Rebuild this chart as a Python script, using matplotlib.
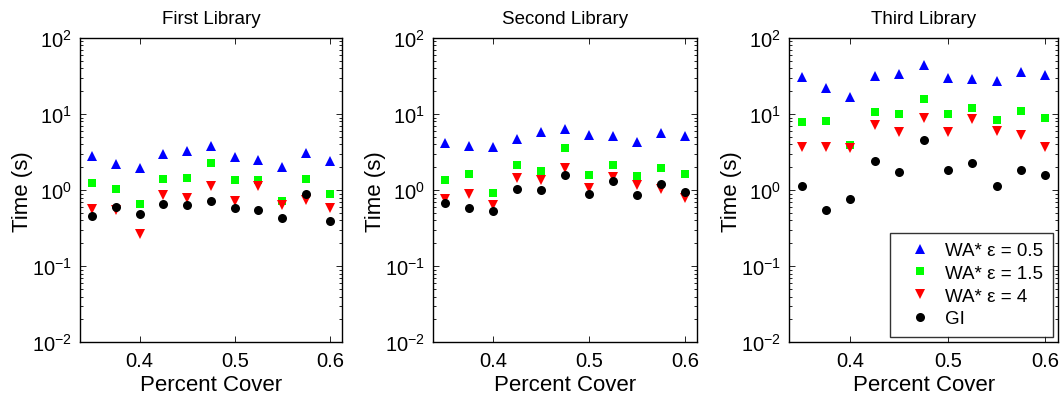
import matplotlib
matplotlib.use('Agg')
import matplotlib.pyplot as plt
import matplotlib.ticker as mticker

plt.rcParams['font.family'] = ['Liberation Sans', 'DejaVu Sans']
plt.rcParams['mathtext.fontset'] = 'custom'
plt.rcParams['mathtext.rm'] = 'Liberation Sans'
plt.rcParams['mathtext.it'] = 'Liberation Sans:italic'

# percent cover values (x axis)
cover = [0.35, 0.375, 0.4, 0.425, 0.45, 0.475, 0.5, 0.525, 0.55, 0.575, 0.6]

titles = ['First Library', 'Second Library', 'Third Library']
labels = ['WA* \u03b5 = 0.5', 'WA* \u03b5 = 1.5', 'WA* \u03b5 = 4', 'GI']

# First Library times (s)
first_wa05 = [2.82, 2.21, 1.94, 3.02, 3.31, 3.77, 2.73, 2.47, 2.00, 3.08, 2.45]
first_wa15 = [1.25, 1.05, 0.656, 1.42, 1.45, 2.28, 1.38, 1.37, 0.718, 1.41, 0.887]
first_wa4 = [0.57, 0.55, 0.268, 0.87, 0.78, 1.14, 0.73, 1.13, 0.64, 0.75, 0.58]
first_gi = [0.46, 0.60, 0.485, 0.656, 0.636, 0.718, 0.575, 0.547, 0.434, 0.887, 0.39]

# Second Library times (s)
second_wa05 = [4.21, 3.77, 3.70, 4.70, 5.87, 6.30, 5.31, 5.15, 4.34, 5.58, 5.10]
second_wa15 = [1.38, 1.65, 0.91, 2.13, 1.81, 3.59, 1.59, 2.13, 1.54, 1.94, 1.62]
second_wa4 = [0.77, 0.90, 0.64, 1.44, 1.35, 1.94, 1.06, 1.50, 1.16, 1.05, 0.79]
second_gi = [0.68, 0.59, 0.54, 1.05, 1.00, 1.59, 0.89, 1.31, 0.86, 1.21, 0.96]

# Third Library times (s)
third_wa05 = [30.5, 21.9, 17.0, 32.1, 34.1, 44.8, 29.9, 29.3, 27.0, 35.9, 32.4]
third_wa15 = [7.94, 8.0, 3.89, 10.7, 9.9, 16.0, 10.1, 11.9, 8.35, 11.1, 8.95]
third_wa4 = [3.73, 3.73, 3.62, 7.18, 5.75, 8.87, 5.75, 8.69, 5.98, 5.26, 3.66]
third_gi = [1.15, 0.55, 0.76, 2.45, 1.74, 4.52, 1.83, 2.30, 1.13, 1.83, 1.57]

panels = [
  [first_wa05, first_wa15, first_wa4, first_gi],
  [second_wa05, second_wa15, second_wa4, second_gi],
  [third_wa05, third_wa15, third_wa4, third_gi],
]

styles = [
  dict(marker='^', color='#0000ff', markersize=7),
  dict(marker='s', color='#00ff00', markersize=6),
  dict(marker='v', color='#ff0000', markersize=7),
  dict(marker='o', color='#000000', markersize=6.5),
]

fig = plt.figure(figsize=(10.63, 4.06), dpi=100)
positions = [
  [0.0753, 0.1544, 0.2462, 0.7495],
  [0.4077, 0.1544, 0.2480, 0.7495],
  [0.7427, 0.1544, 0.2523, 0.7495],
]

for k, series in enumerate(panels):
  ax = fig.add_axes(positions[k])
  for values, st, lab in zip(series, styles, labels):
    ax.plot(cover, values, linestyle='none', markeredgewidth=0, label=lab,
            marker=st['marker'], color=st['color'], markersize=st['markersize'])

  ax.set_yscale('log')
  ax.set_ylim(1e-2, 1e2)
  ax.set_xlim(0.3375, 0.6125)
  ax.set_xticks([0.4, 0.5, 0.6])
  ax.xaxis.set_major_formatter(mticker.FormatStrFormatter('%.1f'))
  ax.yaxis.set_major_locator(mticker.LogLocator(base=10, numticks=10))
  ax.yaxis.set_minor_locator(mticker.LogLocator(base=10, subs=range(2, 10), numticks=10))
  ax.yaxis.set_minor_formatter(mticker.NullFormatter())

  ax.tick_params(which='both', direction='in', top=True, right=True, labelsize=14.5, pad=6)
  ax.tick_params(which='major', length=4, width=0.6)
  ax.tick_params(which='minor', length=2, width=0.6)
  for sp in ax.spines.values():
    sp.set_linewidth(1.0)

  ax.set_title(titles[k], fontsize=13.5, pad=11)
  ax.set_xlabel('Percent Cover', fontsize=16, labelpad=3)
  ax.set_ylabel('Time (s)', fontsize=16, labelpad=-1)

  if k == 2:
    leg = ax.legend(loc='lower right', bbox_to_anchor=(0.982, 0.018), fontsize=13.5,
                    frameon=True, fancybox=False, borderaxespad=0, handlelength=2.2,
                    handletextpad=0.25, labelspacing=0.3, borderpad=0.5, numpoints=1)
    leg.get_frame().set_edgecolor('black')
    leg.get_frame().set_linewidth(1.0)

fig.savefig('out.png', dpi=100)
